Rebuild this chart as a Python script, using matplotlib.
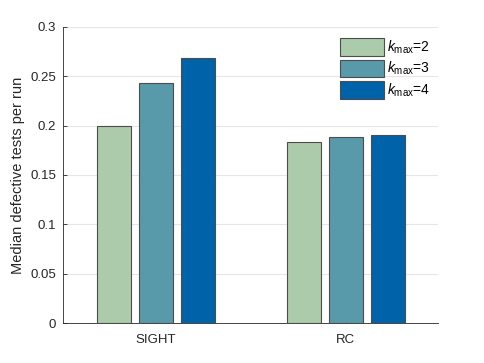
import numpy as np
import matplotlib.pyplot as plt

plt.rcParams['font.family'] = ['Liberation Sans', 'DejaVu Sans']
plt.rcParams['mathtext.fontset'] = 'custom'
plt.rcParams['mathtext.it'] = 'Liberation Sans:italic'
plt.rcParams['mathtext.rm'] = 'Liberation Sans'

groups = ['SIGHT', 'RC']
kmax2 = [0.1995, 0.1835]
kmax3 = [0.243, 0.189]
kmax4 = [0.2685, 0.191]
labels = ['$k_{\\mathrm{max}}$=2', '$k_{\\mathrm{max}}$=3', '$k_{\\mathrm{max}}$=4']
colors = ['#abcbab', '#5899aa', '#0062a8']

fig = plt.figure(figsize=(4.85, 3.63), dpi=100)
ax = fig.add_axes([63/485, 1 - 323/363, 375/485, 296/363])

x = np.arange(1, len(groups) + 1)
w = 0.179
off = 0.221
for i, vals in enumerate([kmax2, kmax3, kmax4]):
    ax.bar(x + (i - 1) * off, vals, w, color=colors[i], edgecolor='#4d4d4d',
           linewidth=0.8, label=labels[i], zorder=3)

ax.set_xlim(0.51, 2.485)
ax.set_ylim(0, 0.3)
ax.set_yticks(np.arange(0, 0.31, 0.05))
ax.set_yticklabels(['0', '0.05', '0.1', '0.15', '0.2', '0.25', '0.3'])
ax.set_xticks(x)
ax.set_xticklabels(groups)
ax.yaxis.grid(True, color='#e6e6e6', linewidth=0.8, zorder=0)
ax.set_axisbelow(True)
for s in ['top', 'right']:
    ax.spines[s].set_visible(False)
for s in ['left', 'bottom']:
    ax.spines[s].set_color('#262626')
    ax.spines[s].set_linewidth(0.6)
ax.tick_params(direction='in', length=3, width=0.6, colors='#262626',
               labelsize=9.5, pad=5)
ax.tick_params(axis='x', pad=8)
ax.set_ylabel('Median defective tests per run', fontsize=10.5, color='#262626')

ax.legend(loc='upper right', bbox_to_anchor=(1.005, 0.995), frameon=False,
          fontsize=10, handlelength=3.2, handleheight=1.6, handletextpad=0.2,
          labelspacing=0.25, borderaxespad=0.3)

fig.savefig('out.png', dpi=100)
